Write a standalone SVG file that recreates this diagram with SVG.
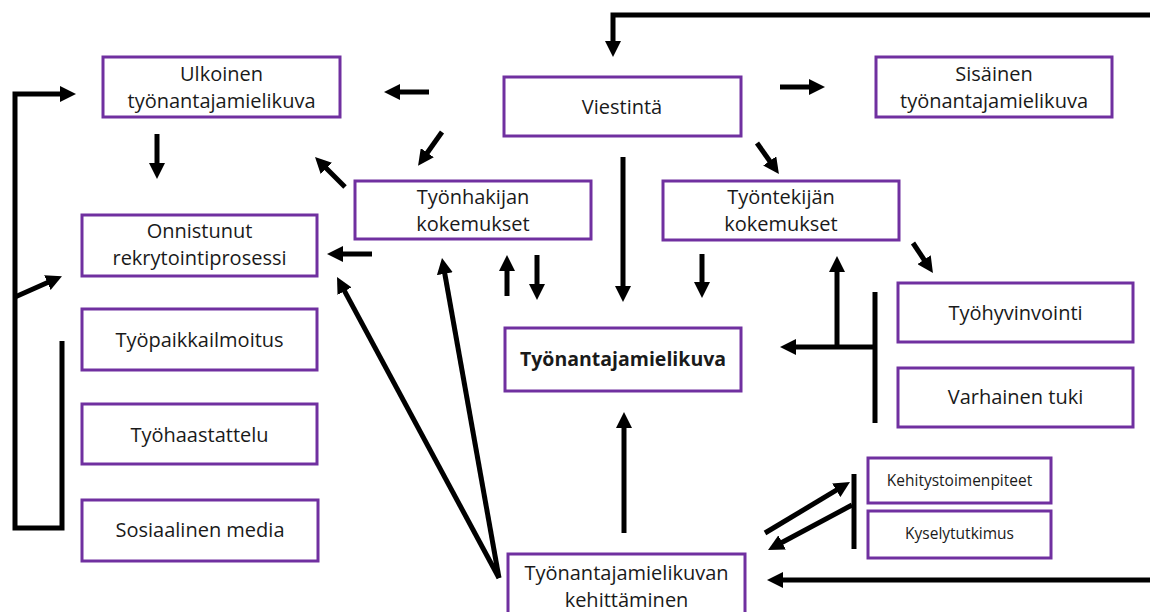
<svg xmlns="http://www.w3.org/2000/svg" width="1150" height="612" viewBox="0 0 1150 612">
<defs>
<style>
.box{fill:#fff;stroke:#7030A0;stroke-width:3}
.t{font-family:"Open Sans","Liberation Sans",sans-serif;font-size:20px;fill:#1a1a1a;text-anchor:middle}
.s{font-size:15.5px}
.b{font-weight:bold;font-size:19.5px}
.c{fill:none;stroke:#000;stroke-width:5}
.a{marker-end:url(#ah)}
</style>
<marker id="ah" markerUnits="userSpaceOnUse" markerWidth="16" markerHeight="16" viewBox="0 0 16 16" refX="4" refY="8" orient="auto">
<path d="M0,0 L16,8 L0,16 z" fill="#000"/>
</marker>
</defs>
<rect width="1150" height="612" fill="#fff"/>
<g id="ulkoinen"><rect class="box" x="103" y="57" width="237" height="60"/><text class="t" x="221.5" y="81">Ulkoinen</text><text class="t" x="221.5" y="108">työnantajamielikuva</text></g>
<g id="viestinta"><rect class="box" x="504" y="77" width="237" height="59"/><text class="t" x="622" y="114">Viestintä</text></g>
<g id="sisainen"><rect class="box" x="876" y="57" width="236" height="60"/><text class="t" x="994" y="81">Sisäinen</text><text class="t" x="994" y="108">työnantajamielikuva</text></g>
<g id="onnistunut"><rect class="box" x="82" y="215" width="235" height="61"/><text class="t" x="199.5" y="238">Onnistunut</text><text class="t" x="199.5" y="265">rekrytointiprosessi</text></g>
<g id="tyonhakijan"><rect class="box" x="355" y="181" width="236" height="58"/><text class="t" x="473" y="204">Työnhakijan</text><text class="t" x="473" y="231">kokemukset</text></g>
<g id="tyontekijan"><rect class="box" x="663" y="181" width="236" height="59"/><text class="t" x="781" y="204">Työntekijän</text><text class="t" x="781" y="231">kokemukset</text></g>
<g id="tyopaikkailmoitus"><rect class="box" x="82" y="309" width="235" height="61"/><text class="t" x="199.5" y="347">Työpaikkailmoitus</text></g>
<g id="tyohaastattelu"><rect class="box" x="82" y="404" width="235" height="60"/><text class="t" x="199.5" y="442">Työhaastattelu</text></g>
<g id="sosiaalinen"><rect class="box" x="82" y="500" width="236" height="61"/><text class="t" x="200" y="537">Sosiaalinen media</text></g>
<g id="tyonantajamielikuva"><rect class="box" x="505" y="328" width="236" height="63"/><text class="t b" x="623" y="366">Työnantajamielikuva</text></g>
<g id="tyohyvinvointi"><rect class="box" x="898" y="283" width="235" height="59"/><text class="t" x="1015.5" y="320">Työhyvinvointi</text></g>
<g id="varhainen"><rect class="box" x="898" y="368" width="235" height="59"/><text class="t" x="1015.5" y="404">Varhainen tuki</text></g>
<g id="kehitystoimenpiteet"><rect class="box" x="868" y="458" width="183" height="45"/><text class="t s" x="959.5" y="486">Kehitystoimenpiteet</text></g>
<g id="kyselytutkimus"><rect class="box" x="868" y="511" width="183" height="47"/><text class="t s" x="959.5" y="539">Kyselytutkimus</text></g>
<g id="kehittaminen"><rect class="box" x="508" y="554" width="237" height="70"/><text class="t" x="626.5" y="580">Työnantajamielikuvan</text><text class="t" x="626.5" y="607">kehittäminen</text></g>
<g id="connectors">
<path class="c a" d="M1150,15 H613 V45"/>
<path class="c a" d="M62,341 V528 H15 V94 H64"/>
<path class="c a" d="M15,297 L51,281"/>
<path class="c a" d="M157,134 V167"/>
<path class="c a" d="M429,92 H396"/>
<path class="c a" d="M442,132 L425,156"/>
<path class="c a" d="M345,187 L323.5,165.5"/>
<path class="c a" d="M372,254 H339"/>
<path class="c a" d="M499,578 L342.7,287.6"/>
<path class="c a" d="M499,578 L444.1,269.8"/>
<path class="c a" d="M507,296 V267"/>
<path class="c a" d="M537,255 V288"/>
<path class="c a" d="M623,157 V290"/>
<path class="c a" d="M780,87 H813"/>
<path class="c a" d="M757,143 L772,164.2"/>
<path class="c a" d="M702,254 V286"/>
<path class="c a" d="M837,347 V268"/>
<path class="c a" d="M913,243 L926.3,263"/>
<path class="c" d="M875,292 V423"/>
<path class="c a" d="M875,347 H792"/>
<path class="c a" d="M624,533 V424"/>
<path class="c" d="M854,474 V549"/>
<path class="c a" d="M765,533 L839.7,488.2"/>
<path class="c a" d="M852,505 L778.6,544.3"/>
<path class="c a" d="M1150,580 H779"/>
</g>
</svg>
